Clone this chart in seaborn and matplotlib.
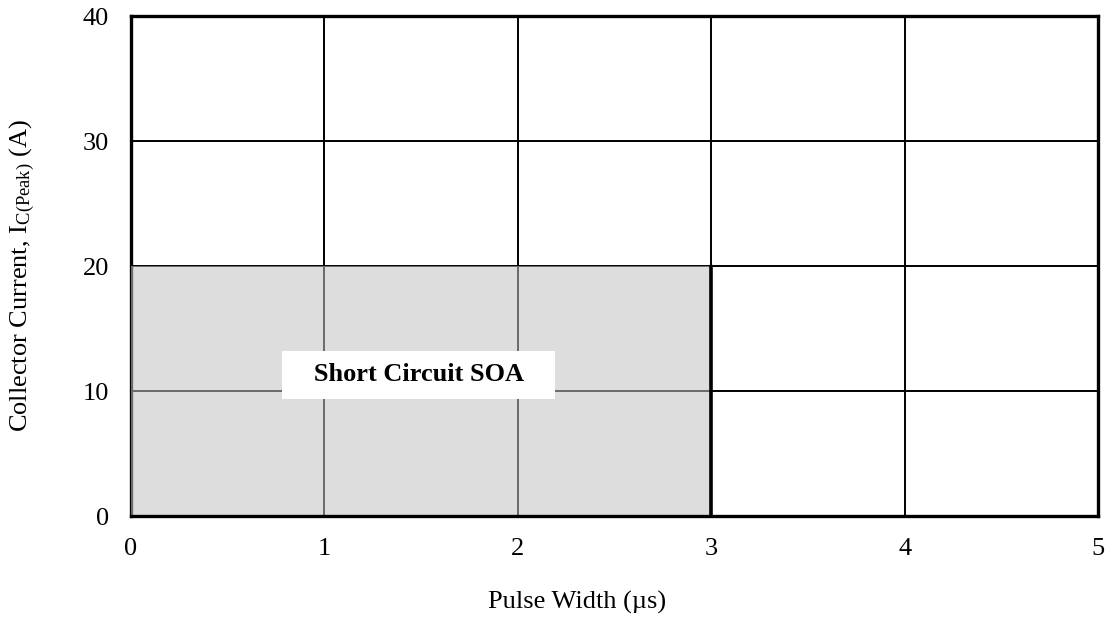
import numpy as np
import pandas as pd
import matplotlib
matplotlib.use("Agg")
import matplotlib.pyplot as plt
import seaborn as sns

# data
soa_width = [0, 3]          # pulse width range of the SOA (us)
soa_current = [20, 20]      # peak collector current limit (A)
edge_x = [3, 3]
edge_y = [0, 20]
xticks = [0, 1, 2, 3, 4, 5]
yticks = [0, 10, 20, 30, 40]

sns.set_style("white")
plt.rcParams['font.family'] = ['Liberation Serif', 'DejaVu Serif']
plt.rcParams['mathtext.fontset'] = 'stix'
plt.rcParams['text.color'] = 'black'
plt.rcParams['axes.labelcolor'] = 'black'
plt.rcParams['xtick.color'] = 'black'
plt.rcParams['ytick.color'] = 'black'

fig = plt.figure(figsize=(11.13, 6.22), dpi=100)
ax = fig.add_axes([0.1177, 0.1704, 0.8688, 0.8036])

soa = pd.DataFrame({"w": soa_width, "i": soa_current})
ax.fill_between(soa["w"], 0, soa["i"], color="#c2c2c2", alpha=0.55, lw=0, zorder=3)
edge = pd.DataFrame({"x": edge_x, "y": edge_y})
sns.lineplot(data=edge, x="x", y="y", sort=False, estimator=None, color="black", lw=2.6, ax=ax, zorder=4)

ax.set_xlim(0, 5)
ax.set_ylim(0, 40)
ax.set_xticks(xticks)
ax.set_yticks(yticks)
ax.grid(True, color="black", lw=1.4, zorder=1)
ax.set_axisbelow(True)
ax.tick_params(length=0, labelsize=19, colors="black")
ax.tick_params(axis="x", pad=16)
ax.tick_params(axis="y", pad=16)
for s in ax.spines.values():
    s.set_color("black")
    s.set_linewidth(2.4)
ax.spines['left'].set_zorder(2)
ax.spines['bottom'].set_zorder(5)
ax.spines['top'].set_zorder(5)
ax.spines['right'].set_zorder(5)

ax.text(1.486, 11.3, "   Short Circuit SOA   ", ha="center", va="center", fontsize=19,
        fontweight="bold", color="black", zorder=6,
        bbox=dict(facecolor="white", edgecolor="none", pad=9))

ax.set_xlabel("Pulse Width (µs)", fontsize=19, color="black")
ax.xaxis.set_label_coords(0.461, -0.15)
ax.set_ylabel(r"Collector Current, I$_{\mathregular{C(Peak)}}$ (A)", fontsize=19, color="black")
ax.yaxis.set_label_coords(-0.097, 0.482)

fig.savefig("out.png", dpi=100)
